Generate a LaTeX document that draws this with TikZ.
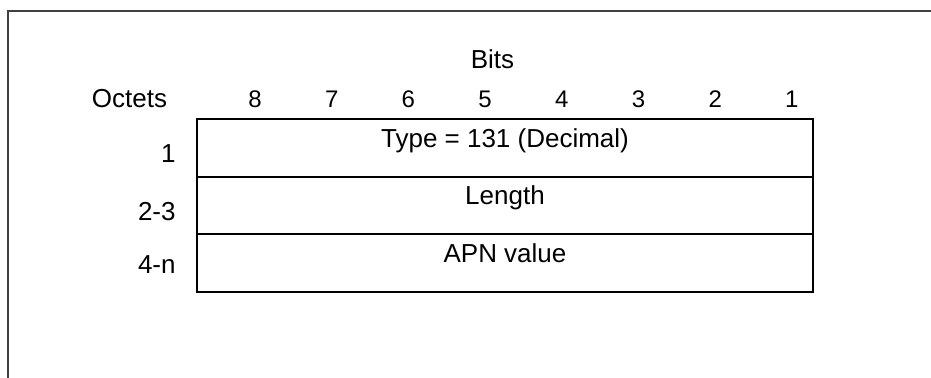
\documentclass[tikz,border=0pt]{standalone}
\usepackage{fontspec}
\setmainfont{Liberation Sans}
\usetikzlibrary{positioning,calc}
\begin{document}
\begin{tikzpicture}[x=0.5pt,y=-0.5pt]
  \tikzset{font=\fontsize{13pt}{15pt}\selectfont}
  \tikzset{field/.style = {shape=rectangle,draw,line width=1pt,outer sep=0pt,
      minimum width=308pt,minimum height=28.8pt,inner sep=0pt}}
  \tikzset{txt/.style = {inner sep=0pt,anchor=base}}
  \tikzset{bitnum/.style = {txt,font=\fontsize{12pt}{14pt}\selectfont}}
  \tikzset{octet/.style = {inner sep=0pt,anchor=base east}}

  \useasboundingbox (0,0) rectangle (931,378);
  \draw[black!75,line width=1pt] (931,11.5) -- (7.5,11.5) -- (7.5,378);

  \node[field] (type) at (505,148) {};
  \node[field] (len) [below=0pt of type] {};
  \node[field] (apn) [below=0pt of len] {};

  \node[txt] (typetxt) at ([yshift=-14pt]type.north) {Type = 131 (Decimal)};
  \node[txt] (lentxt) at ([yshift=-13.7pt]len.north) {Length};
  \node[txt] (apntxt) at ([yshift=-14pt]apn.north) {APN value};

  \node[octet] (o1) at ([xshift=-10.5pt,yshift=-7.4pt]type.west) {1};
  \node[octet] (o2) at ([xshift=-10.5pt,yshift=-7.3pt]len.west) {2-3};
  \node[octet] (o3) at ([xshift=-10.5pt,yshift=-5pt]apn.west) {4-n};

  \node[txt] (octets) at (129.5,107.5) {Octets};
  \foreach \b [count=\i from 0] in {8,7,...,1}
    \node[bitnum] (b\b) at ({255+76.7*\i},107.5) {\b};
  \node[txt] (bits) at (492.5,68.3) {Bits};
\end{tikzpicture}
\end{document}
